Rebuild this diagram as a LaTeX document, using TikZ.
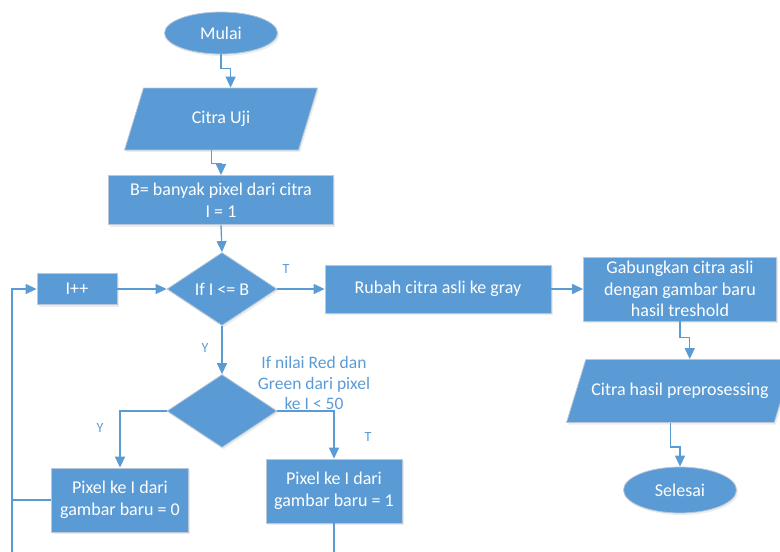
\documentclass[tikz,border=0pt]{standalone}
\usepackage{fontspec}
\setmainfont{Carlito}
\usetikzlibrary{shapes,arrows.meta,positioning,calc,shadows}
\definecolor{flowblue}{HTML}{5B9BD5}
\definecolor{flowedge}{HTML}{B9C8D8}

\begin{document}
\begin{tikzpicture}[x=1pt,y=-1pt,
  shape base/.style={draw=flowedge,fill=flowblue,text=white,line width=0.8pt,
    font=\fontsize{18}{21.5}\selectfont,align=center,inner sep=0pt,
    drop shadow={opacity=0.15,shadow xshift=1.5pt,shadow yshift=-2pt}},
  terminal/.style={shape base,ellipse,minimum width=113,minimum height=42},
  io/.style={shape base,trapezium,trapezium left angle=73,trapezium right angle=107,
    trapezium stretches body,text height=13pt,text depth=4pt,inner ysep=22.5pt},
  process/.style={shape base,rectangle},
  decision/.style={shape base,diamond,aspect=1.5,minimum width=110,minimum height=73},
  conn/.style={draw=flowblue,line width=1.3pt},
  arr/.style={conn,-{Triangle[width=10pt,length=11pt]}},
  lbl/.style={text=flowblue,font=\fontsize{14}{16}\selectfont}]
  \useasboundingbox (0,0) rectangle (780,552);

  % Left column: start, input, init
  \node[terminal] (mulai) at (221,33) {Mulai};
  \node[io,minimum width=193] (citra) at (221,119) {Citra Uji};
  \node[process,minimum width=225,minimum height=49] (init) at (221,200)
    {B= banyak pixel dari citra\\I = 1};

  % Loop test and counter
  \node[decision] (cek) at (222,289) {If I <= B};
  \node[process,minimum width=80,minimum height=31] (inc) at (77,289) {I++};

  % Pixel test
  \node[decision] (cek2) at (222,411) {};
  \node[text=flowblue,font=\fontsize{17.5}{20.5}\selectfont,align=center] (syarat) at (314,383)
    {If nilai Red dan\\Green dari pixel\\ke I < 50};
  \node[process,minimum width=137,minimum height=64] (nol) at (120,500)
    {Pixel ke I dari\\gambar baru = 0};
  \node[process,minimum width=136,minimum height=64] (satu) at (334,491)
    {Pixel ke I dari\\gambar baru = 1};

  % Right: after the loop
  \node[process,minimum width=226,minimum height=48] (gray) at (438,289)
    {Rubah citra asli ke gray};
  \node[process,minimum width=193,minimum height=64] (gabung) at (680,289)
    {Gabungkan citra asli\\dengan gambar baru\\hasil treshold};
  \node[io,minimum width=227,inner ysep=23pt] (hasil) at (680,391)
    {Citra hasil preprosessing};
  \node[terminal,minimum height=46] (selesai) at (680,490) {Selesai};

  % Middles of the slanted shapes' top and bottom edges
  \coordinate (citra atas) at ($(citra.top left corner)!0.5!(citra.top right corner)$);
  \coordinate (citra bawah) at ($(citra.bottom left corner)!0.5!(citra.bottom right corner)$);
  \coordinate (hasil atas) at ($(hasil.top left corner)!0.5!(hasil.top right corner)$);
  \coordinate (hasil bawah) at ($(hasil.bottom left corner)!0.5!(hasil.bottom right corner)$);

  % Loose ends at the bottom edge
  \coordinate (kiri) at (12,560);
  \coordinate (bawah) at (334,560);

  % Arrows
  \draw[arr] (mulai.south) -- ++(0,14) -| (citra atas);
  \draw[arr] (citra bawah) -- ++(0,13) -| (init.north);
  \draw[arr] (init.south) -- (cek.north);
  \draw[arr] (inc.east) -- (cek.west);
  \draw[arr] (cek.east) -- (gray.west);
  \draw[arr] (gray.east) -- (gabung.west);
  \draw[arr] (gabung.south) -- ++(0,16) -| (hasil atas);
  \draw[arr] (hasil bawah) -- ++(0,24) -| (selesai.north);
  \draw[arr] (cek.south) -- (cek2.north);
  \draw[arr] (cek2.west) -| (nol.north);
  \draw[arr] (cek2.east) -| (satu.north);
  \draw[conn] (satu.south) -- (bawah);
  \draw[conn] (nol.west) -- (nol.west -| kiri);
  \draw[arr] (kiri) |- (inc.west);

  % Branch labels
  \node[lbl] (t1) at (286,269) {T};
  \node[lbl] (y1) at (205,348) {Y};
  \node[lbl] (y2) at (100,428) {Y};
  \node[lbl] (t2) at (368,437) {T};
\end{tikzpicture}
\end{document}
